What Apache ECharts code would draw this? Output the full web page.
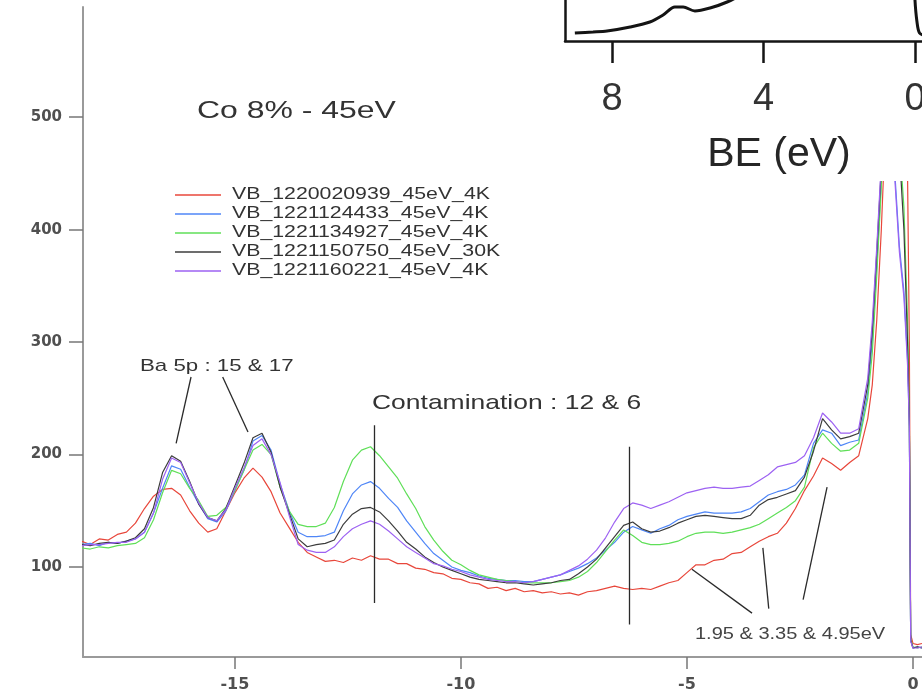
<!DOCTYPE html>
<html>
<head>
<meta charset="utf-8">
<script src="https://cdn.jsdelivr.net/npm/echarts@6/dist/echarts.min.js"></script>
<style>
  html, body { margin: 0; padding: 0; background: #fff; }
  #chart { width: 922px; height: 699px; }
</style>
</head>
<body>
<div id="chart"></div>
<script>
// Binding energy grid (eV, negative = below E_F)
const be = [
  -18.4, -18.2, -18.0, -17.8, -17.6, -17.4, -17.2, -17.0, -16.8, -16.6,
  -16.4, -16.2, -16.0, -15.8, -15.6, -15.4, -15.2, -15.0, -14.8, -14.6,
  -14.4, -14.2, -14.0, -13.8, -13.6, -13.4, -13.2, -13.0, -12.8, -12.6,
  -12.4, -12.2, -12.0, -11.8, -11.6, -11.4, -11.2, -11.0, -10.8, -10.6,
  -10.4, -10.2, -10.0, -9.8, -9.6, -9.4, -9.2, -9.0, -8.8, -8.6,
  -8.4, -8.2, -8.0, -7.8, -7.6, -7.4, -7.2, -7.0, -6.8, -6.6,
  -6.4, -6.2, -6.0, -5.8, -5.6, -5.4, -5.2, -5.0, -4.8, -4.6,
  -4.4, -4.2, -4.0, -3.8, -3.6, -3.4, -3.2, -3.0, -2.8, -2.6,
  -2.4, -2.2, -2.0, -1.8, -1.6, -1.4, -1.2, -1.0, -0.9, -0.8,
  -0.7, -0.6, -0.5, -0.4, -0.3, -0.2, -0.12, -0.08, -0.05, 0.0,
  0.1, 0.2
];

// Intensity of each scan on the grid above
const scan0939 = [
  123, 120, 125, 124, 129, 131, 139, 152, 163, 169,
  170, 164, 150, 139, 131, 134, 150, 166, 179, 188,
  180, 167, 148, 135, 122, 113, 109, 105, 106, 104,
  108, 106, 110, 107, 107, 103, 103, 99, 98, 95,
  94, 90, 89, 86, 85, 81, 82, 79, 81, 78,
  79, 77, 78, 76, 77, 75, 78, 79, 81, 83,
  81, 80, 81, 80, 83, 86, 88, 95, 102, 102,
  106, 107, 112, 113, 118, 123, 127, 130, 139, 152,
  168, 181, 197, 192, 186, 193, 199, 232, 262, 320,
  400, 500, 650, 660, 600, 520, 450, 300, 40, 32,
  31, 32
];
const scan4433 = [
  120, 121, 119, 122, 121, 123, 125, 131, 148, 170,
  190, 187, 171, 156, 143, 140, 150, 168, 186, 212,
  217, 204, 174, 150, 131, 127, 127, 128, 131, 150,
  165, 173, 176, 170, 161, 153, 141, 131, 121, 112,
  106, 100, 97, 95, 92, 90, 89, 88, 88, 87,
  87, 89, 91, 93, 96, 99, 103, 108, 115, 122,
  131, 136, 133, 130, 134, 137, 142, 145, 147, 149,
  148, 148, 148, 149, 152, 158, 164, 167, 169, 173,
  182, 210, 222, 219, 208, 211, 213, 255, 300, 370,
  445, 540, 650, 450, 385, 345, 285, 225, 35, 28,
  29, 28
];
const scan4927 = [
  117, 116, 118, 117, 119, 120, 121, 126, 142, 166,
  186, 183, 170, 159, 145, 146, 153, 168, 186, 204,
  209, 200, 171, 150, 138, 136, 136, 139, 153, 176,
  195, 204, 207, 199, 189, 179, 165, 152, 136, 124,
  114, 106, 102, 97, 93, 91, 89, 88, 87, 86,
  86, 86, 86, 87, 88, 91, 96, 104, 114, 124,
  133, 128, 122, 120, 120, 121, 123, 127, 130, 131,
  131, 130, 131, 133, 135, 138, 143, 148, 153, 159,
  171, 206, 219, 210, 203, 204, 210, 250, 290, 360,
  438, 530, 650, 560, 480, 420, 320, 235, 36, 29,
  28, 29
];
const scan0750 = [
  120, 119, 121, 122, 121, 123, 126, 134, 153, 184,
  199, 194, 176, 156, 144, 141, 152, 172, 192, 215,
  219, 202, 171, 148, 125, 118, 120, 121, 124, 138,
  147, 152, 153, 149, 141, 132, 122, 116, 109, 104,
  100, 97, 94, 91, 89, 88, 87, 86, 86, 85,
  84, 85, 86, 88, 89, 94, 100, 107, 117, 127,
  137, 140, 134, 131, 132, 135, 139, 142, 145, 146,
  145, 144, 143, 143, 146, 155, 160, 162, 165, 168,
  180, 203, 232, 222, 214, 216, 219, 262, 310, 380,
  455, 550, 650, 550, 470, 400, 300, 230, 35, 28,
  29, 28
];
const scan0221 = [
  119, 120, 120, 121, 122, 122, 125, 131, 148, 178,
  197, 193, 175, 157, 144, 141, 151, 170, 188, 208,
  214, 200, 175, 146, 120, 115, 113, 113, 118, 127,
  134, 138, 141, 138, 132, 125, 118, 113, 108, 103,
  101, 98, 96, 93, 91, 89, 88, 87, 87, 86,
  87, 89, 91, 93, 97, 101, 107, 115, 126, 140,
  152, 157, 155, 152, 155, 158, 162, 166, 168, 170,
  171, 170, 170, 171, 172, 177, 182, 189, 191, 193,
  199, 215, 237, 229, 219, 219, 223, 268, 318, 385,
  460, 555, 650, 444, 380, 340, 280, 225, 34, 28,
  28, 29
];

const seriesNames = [
  'VB_1220020939_45eV_4K',
  'VB_1221124433_45eV_4K',
  'VB_1221134927_45eV_4K',
  'VB_1221150750_45eV_30K',
  'VB_1221160221_45eV_4K'
];
const seriesValues = [scan0939, scan4433, scan4927, scan0750, scan0221];
const seriesColors = ['#e8473b', '#4f86f7', '#5fdf58', '#3c3c3c', '#9d62f2'];

// Axis ticks
const xTicks = [-15, -10, -5, 0];
const yTicks = [100, 200, 300, 400, 500];

// Reference spectrum drawn in the corner panel (BE in eV, counts in panel units)
const insetBE = [8.98, 8.5, 8.13, 7.52, 7.0, 6.65, 6.34, 6.12, 5.81, 5.41, 4.96, 4.62, 4.0, 3.0, 2.0, 1.0, 0.3, 0.0, -0.05, -0.12, -0.3];
const insetCounts = [8, 9, 10, 14, 19, 26, 34, 34, 30, 33, 39, 46, 70, 120, 150, 200, 250, 41, 20, 8, 5];
const insetMajor = [8, 4, 0];
const insetMinor = [6, 2];

// Guide lines for the annotated features, in (BE, intensity)
const guides = [
  [[-15.97, 269], [-16.30, 210]],
  [[-15.27, 269], [-14.71, 220]],
  [[-11.92, 226], [-11.92, 68]],
  [[-6.28, 207], [-6.28, 49]],
  [[-4.89, 98], [-3.56, 59]],
  [[-3.32, 117], [-3.19, 63]],
  [[-1.90, 171], [-2.43, 71]]
];

const FONT = '"Liberation Sans", Arial, sans-serif';
const TICKFONT = '"DejaVu Sans", sans-serif';

const chart = echarts.init(document.getElementById('chart'), null, { renderer: 'canvas' });

const spectra = seriesNames.map((name, i) => ({
  name: name,
  type: 'line',
  xAxisIndex: 0,
  yAxisIndex: 0,
  data: be.map((x, k) => [x, seriesValues[i][k]]),
  symbol: 'none',
  clip: true,
  z: 2,
  lineStyle: { color: seriesColors[i], width: 1.2 },
  itemStyle: { color: seriesColors[i] }
}));

// stretched text helper
function label(text, x, y, size, sx, color) {
  return {
    type: 'text', x: x, y: y, scaleX: sx, z: 10,
    style: {
      text: text, x: 0, y: 0, font: size + 'px ' + FONT, fill: color || '#333',
      verticalAlign: 'middle', textVerticalAlign: 'middle'
    }
  };
}

const legendItems = [];
seriesNames.forEach((name, i) => {
  const y = 195 + i * 19;
  legendItems.push({
    type: 'line', z: 10,
    shape: { x1: 175, y1: y, x2: 221, y2: y },
    style: { stroke: seriesColors[i], lineWidth: 1.3 }
  });
  legendItems.push(label(name, 232, y, 16, 1.33, '#333'));
});

const option = {
  animation: false,
  backgroundColor: '#ffffff',
  grid: [
    { left: 83, right: 0, top: 7, bottom: 42, containLabel: false, outerBoundsMode: 'none' },
    { left: 565, right: -71, top: -60, bottom: 658, containLabel: false, outerBoundsMode: 'none' }
  ],
  xAxis: [
    {
      type: 'value', gridIndex: 0, min: -18.36, max: 0.2,
      axisLine: { show: true, onZero: false, lineStyle: { color: '#9a9a9a', width: 2 } },
      axisTick: { show: true, customValues: xTicks, length: 12, lineStyle: { color: '#777', width: 1.5 } },
      axisLabel: { customValues: xTicks, margin: 20, color: '#505050', fontFamily: TICKFONT, fontWeight: 'bold', fontSize: 16 },
      splitLine: { show: false }
    },
    {
      type: 'value', gridIndex: 1, inverse: true, min: -2.06, max: 9.24, z: 60,
      axisLine: { show: true, onZero: false, lineStyle: { color: '#151515', width: 2.5 } },
      axisTick: { show: true, customValues: insetMajor, length: 22, lineStyle: { color: '#151515', width: 2.5 } },
      axisLabel: { customValues: insetMajor, margin: 40, color: '#333', fontFamily: FONT, fontSize: 38 },
      name: 'BE (eV)', nameLocation: 'middle', nameGap: 93,
      nameTextStyle: { fontFamily: FONT, fontSize: 41, color: '#262626' },
      splitLine: { show: false }
    },
    {
      type: 'value', gridIndex: 1, inverse: true, min: -2.06, max: 9.24, z: 60,
      axisLine: { show: false, onZero: false },
      axisTick: { show: true, customValues: insetMinor, length: 12, lineStyle: { color: '#151515', width: 2.5 } },
      axisLabel: { show: false },
      splitLine: { show: false }
    }
  ],
  yAxis: [
    {
      type: 'value', gridIndex: 0, min: 20, max: 598,
      axisLine: { show: true, onZero: false, lineStyle: { color: '#9a9a9a', width: 2 } },
      axisTick: { show: true, customValues: yTicks, length: 14, lineStyle: { color: '#777', width: 1.5 } },
      axisLabel: { customValues: yTicks, margin: 21, color: '#505050', fontFamily: TICKFONT, fontWeight: 'bold', fontSize: 15 },
      splitLine: { show: false }
    },
    {
      type: 'value', gridIndex: 1, min: 0, max: 101, z: 60,
      axisLine: { show: true, onZero: false, lineStyle: { color: '#151515', width: 2.5 } },
      axisTick: { show: false },
      axisLabel: { show: false },
      splitLine: { show: false }
    }
  ],
  series: spectra.concat([
    {
      name: 'guides',
      type: 'lines',
      coordinateSystem: 'cartesian2d',
      xAxisIndex: 0, yAxisIndex: 0,
      z: 3,
      lineStyle: { color: '#2a2a2a', width: 1.3, opacity: 1 },
      data: guides.map(g => ({ coords: g }))
    },
    {
      name: 'reference',
      type: 'line',
      xAxisIndex: 1, yAxisIndex: 1,
      data: insetBE.map((x, k) => [x, insetCounts[k]]),
      symbol: 'none', smooth: 0.3, clip: true, z: 60,
      lineStyle: { color: '#141414', width: 3 }
    }
  ]),
  graphic: [
    // white panel behind the corner reference spectrum
    { type: 'rect', z: 50, shape: { x: 563, y: 0, width: 359, height: 181 }, style: { fill: '#ffffff' } },
    label('Co 8% - 45eV', 197, 111, 24, 1.33, '#333'),
    label('Ba 5p : 15 & 17', 140, 366, 17, 1.31, '#333'),
    label('Contamination : 12 & 6', 372, 403, 21, 1.26, '#333'),
    label('1.95 & 3.35 & 4.95eV', 695, 635, 16, 1.25, '#444')
  ].concat(legendItems)
};

chart.setOption(option);
</script>
</body>
</html>
